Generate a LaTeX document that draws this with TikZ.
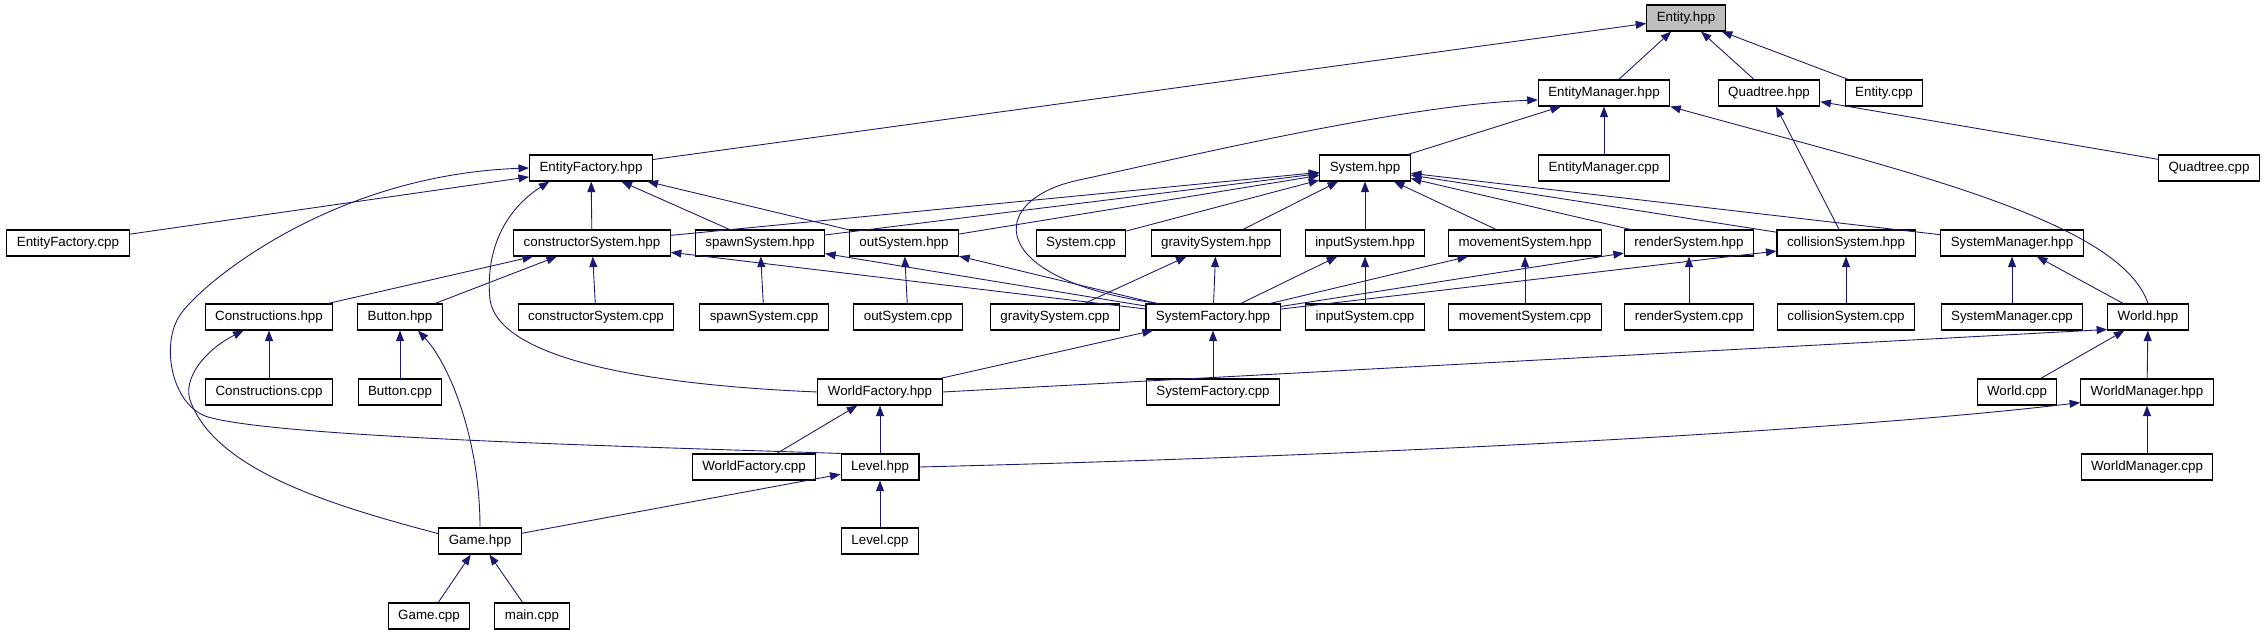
\documentclass[tikz,border=0pt]{standalone}
\usepackage{fontspec}
\setmainfont{Liberation Sans}
\usepackage{xcolor}
\usepackage{tikz}
\usetikzlibrary{arrows.meta}
\definecolor{EdgeBlue}{HTML}{191970}
\definecolor{RootGray}{HTML}{BFBFBF}
\tikzset{
  filenode/.style={draw=black,fill=white,line width=0.6pt,
    minimum height=0.52cm,inner xsep=0.2cm,inner ysep=0pt,
    font=\fontsize{7.6}{9}\selectfont},
  rootnode/.style={filenode,fill=RootGray},
  incl/.style={line width=0.5pt,draw=EdgeBlue,
    -{Triangle[length=6pt,width=4.5pt]}},
}
\begin{document}
\begin{tikzpicture}[x=0.2mm,y=-0.2mm]
  \useasboundingbox (0,0) rectangle (2265,635);
  \node[rootnode] (entityh) at (1686, 18) {Entity.hpp};
  \node[filenode] (emgrh) at (1604, 93) {EntityManager.hpp};
  \node[filenode] (quadh) at (1769, 93) {Quadtree.hpp};
  \node[filenode] (entityc) at (1884, 93) {Entity.cpp};
  \node[filenode] (efach) at (591,168) {EntityFactory.hpp};
  \node[filenode] (sysh) at (1365,168) {System.hpp};
  \node[filenode] (emgrc) at (1604,168) {EntityManager.cpp};
  \node[filenode] (quadc) at (2209,168) {Quadtree.cpp};
  \node[filenode] (efacc) at (68,243) {EntityFactory.cpp};
  \node[filenode] (consh) at (592,243) {constructorSystem.hpp};
  \node[filenode] (spawnh) at (760,243) {spawnSystem.hpp};
  \node[filenode] (outh) at (904,243) {outSystem.hpp};
  \node[filenode] (sysc) at (1081,243) {System.cpp};
  \node[filenode] (gravh) at (1216,243) {gravitySystem.hpp};
  \node[filenode] (inputh) at (1365,243) {inputSystem.hpp};
  \node[filenode] (moveh) at (1525,243) {movementSystem.hpp};
  \node[filenode] (renderh) at (1689,243) {renderSystem.hpp};
  \node[filenode] (collh) at (1846,243) {collisionSystem.hpp};
  \node[filenode] (smgrh) at (2012,243) {SystemManager.hpp};
  \node[filenode] (constrh) at (269,317) {Constructions.hpp};
  \node[filenode] (buttonh) at (400,317) {Button.hpp};
  \node[filenode] (consc) at (596,317) {constructorSystem.cpp};
  \node[filenode] (spawnc) at (764,317) {spawnSystem.cpp};
  \node[filenode] (outc) at (908,317) {outSystem.cpp};
  \node[filenode] (gravc) at (1055,317) {gravitySystem.cpp};
  \node[filenode] (sfach) at (1213,317) {SystemFactory.hpp};
  \node[filenode] (inputc) at (1365,317) {inputSystem.cpp};
  \node[filenode] (movec) at (1525,317) {movementSystem.cpp};
  \node[filenode] (renderc) at (1689,317) {renderSystem.cpp};
  \node[filenode] (collc) at (1846,317) {collisionSystem.cpp};
  \node[filenode] (smgrc) at (2012,317) {SystemManager.cpp};
  \node[filenode] (worldh) at (2148,317) {World.hpp};
  \node[filenode] (constrc) at (269,392) {Constructions.cpp};
  \node[filenode] (buttonc) at (400,392) {Button.cpp};
  \node[filenode] (wfach) at (880,392) {WorldFactory.hpp};
  \node[filenode] (sfacc) at (1213,392) {SystemFactory.cpp};
  \node[filenode] (worldc) at (2017,392) {World.cpp};
  \node[filenode] (wmgrh) at (2147,392) {WorldManager.hpp};
  \node[filenode] (wfacc) at (754,467) {WorldFactory.cpp};
  \node[filenode] (levelh) at (880,467) {Level.hpp};
  \node[filenode] (wmgrc) at (2147,467) {WorldManager.cpp};
  \node[filenode] (gameh) at (480,541) {Game.hpp};
  \node[filenode] (levelc) at (880,541) {Level.cpp};
  \node[filenode] (gamec) at (429,616) {Game.cpp};
  \node[filenode] (mainc) at (532,616) {main.cpp};

  \draw[incl] (efach) -- (entityh);
  \draw[incl] (emgrh) -- (entityh);
  \draw[incl] (quadh) -- (entityh);
  \draw[incl] (entityc) -- (entityh);
  \draw[incl] (sysh) -- (emgrh);
  \draw[incl] (emgrc) -- (emgrh);
  \draw[incl] (sfach.166) .. controls (985,280) and (985,200) .. (1079,180)
    .. controls (1173,160) and (1400,105) .. (emgrh.186);
  \draw[incl] (worldh.north) .. controls (2120,220) and (1900,170) .. (emgrh.south east);
  \draw[incl] (quadc) -- (quadh);
  \draw[incl] (collh) -- (quadh);
  \draw[incl] (efacc) -- (efach);
  \draw[incl] (levelh.north west) .. controls (650,447) and (280,438) .. (208,417)
    .. controls (172,406) and (160,345) .. (180,315)
    .. controls (200,285) and (330,175) .. (efach.west);
  \draw[incl] (consh) -- (efach);
  \draw[incl] (spawnh) -- (efach);
  \draw[incl] (outh) -- (efach);
  \draw[incl] (wfach.west) .. controls (650,385) and (500,360) .. (490,300)
    .. controls (485,250) and (505,210) .. (efach.198);
  \draw[incl] (consh) -- (sysh);
  \draw[incl] (spawnh) -- (sysh);
  \draw[incl] (outh) -- (sysh);
  \draw[incl] (sysc) -- (sysh);
  \draw[incl] (gravh) -- (sysh);
  \draw[incl] (inputh) -- (sysh);
  \draw[incl] (moveh) -- (sysh);
  \draw[incl] (renderh) -- (sysh);
  \draw[incl] (collh) -- (sysh);
  \draw[incl] (smgrh) -- (sysh);
  \draw[incl] (constrh) -- (consh);
  \draw[incl] (buttonh) -- (consh);
  \draw[incl] (consc) -- (consh);
  \draw[incl] (sfach) -- (consh);
  \draw[incl] (spawnc) -- (spawnh);
  \draw[incl] (sfach) -- (spawnh);
  \draw[incl] (outc) -- (outh);
  \draw[incl] (sfach) -- (outh);
  \draw[incl] (gravc) -- (gravh);
  \draw[incl] (sfach) -- (gravh);
  \draw[incl] (inputc) -- (inputh);
  \draw[incl] (sfach) -- (inputh);
  \draw[incl] (movec) -- (moveh);
  \draw[incl] (sfach) -- (moveh);
  \draw[incl] (renderc) -- (renderh);
  \draw[incl] (sfach) -- (renderh);
  \draw[incl] (collc) -- (collh);
  \draw[incl] (sfach) -- (collh);
  \draw[incl] (smgrc) -- (smgrh);
  \draw[incl] (worldh) -- (smgrh);
  \draw[incl] (wfach) -- (sfach);
  \draw[incl] (sfacc) -- (sfach);
  \draw[incl] (wfacc) -- (wfach);
  \draw[incl] (levelh) -- (wfach);
  \draw[incl] (wfach.east) -- (worldh.197);
  \draw[incl] (worldc) -- (worldh);
  \draw[incl] (wmgrh) -- (worldh);
  \draw[incl] (wmgrc) -- (wmgrh);
  \draw[incl] (levelh.east) .. controls (1400,455) and (1850,430) .. (wmgrh.189);
  \draw[incl] (levelc) -- (levelh);
  \draw[incl] (gameh) -- (levelh);
  \draw[incl] (gamec) -- (gameh);
  \draw[incl] (mainc) -- (gameh);
  \draw[incl] (constrc) -- (constrh);
  \draw[incl] (buttonc) -- (buttonh);
  \draw[incl] (gameh.170) .. controls (330,505) and (215,470) .. (190,400)
    .. controls (183,378) and (205,350) .. (constrh.208);
  \draw[incl] (gameh.north) .. controls (480,440) and (450,365) .. (buttonh.323);
\end{tikzpicture}
\end{document}
